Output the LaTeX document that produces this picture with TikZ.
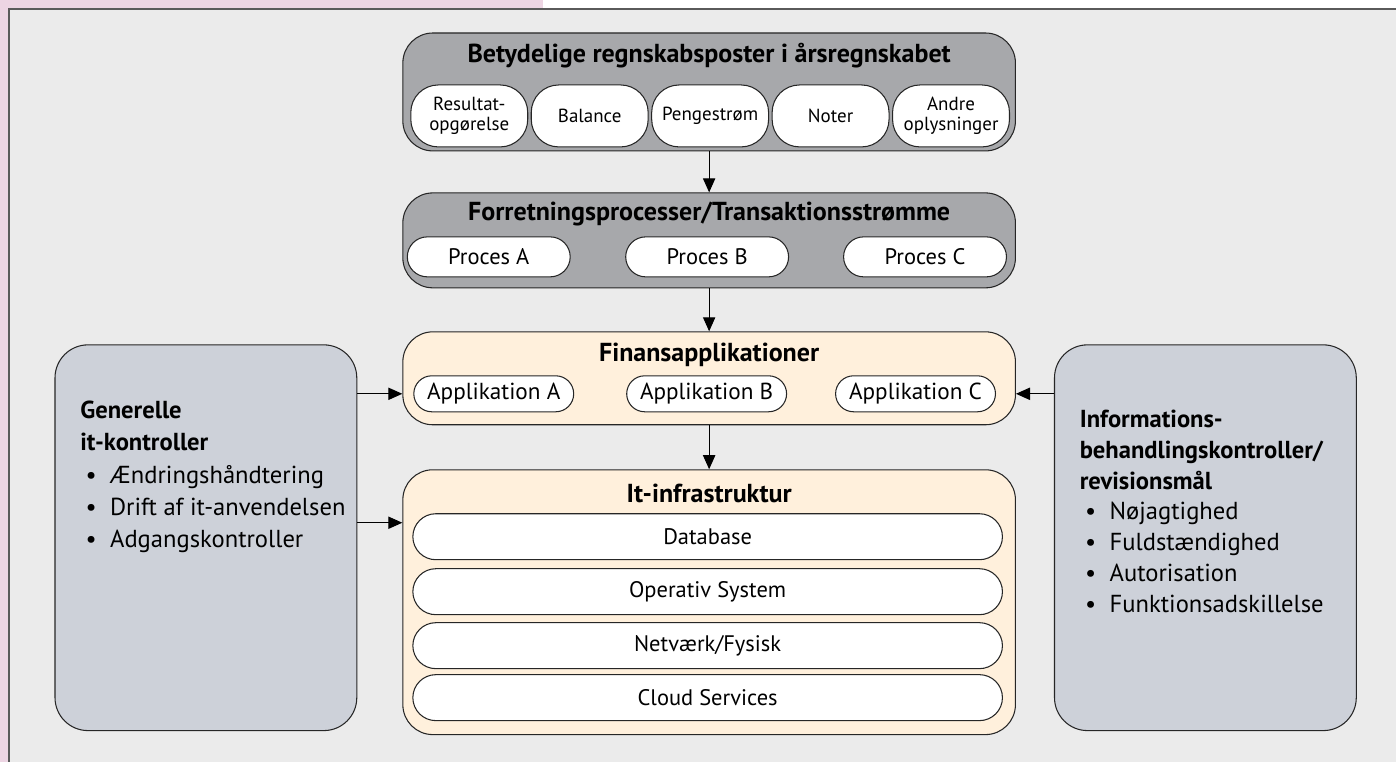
\documentclass[tikz,border=0pt]{standalone}
\usepackage{fontspec}
\setmainfont{PT Sans}
\usetikzlibrary{arrows.meta}

\definecolor{panelgray}{HTML}{EBEBEB}
\definecolor{framepink}{HTML}{EDD5E3}
\definecolor{headgray}{HTML}{A7A8AB}
\definecolor{sidegray}{HTML}{CDD1D9}
\definecolor{appcream}{HTML}{FFF0DC}
\definecolor{rimgray}{HTML}{5A5A5A}

\newcommand{\itm}{\makebox[17pt][l]{\hspace{3pt}\textbullet}}

\begin{document}
\begin{tikzpicture}[x=0.02cm, y=-0.02cm,
    box/.style={draw=black!85, line width=0.6pt, rounded corners=0.6cm,
      minimum width=12.26cm, inner sep=0pt},
    graybox/.style={box, fill=headgray},
    creambox/.style={box, fill=appcream},
    boxtitle/.style={font=\fontsize{14.8}{16}\selectfont\bfseries, inner sep=0pt},
    sidebox/.style={draw=black!85, line width=0.6pt, rounded corners=0.66cm,
      fill=sidegray, minimum width=6.04cm, minimum height=7.72cm},
    sidetext/.style={anchor=base west, align=left, inner sep=0pt},
    pill/.style={draw=black!85, line width=0.6pt, fill=white, inner sep=0pt,
      font=\fontsize{12.8}{14}\selectfont},
    itempill/.style={pill, rounded corners=0.55cm, minimum width=2.34cm,
      minimum height=1.24cm, align=center, font=\fontsize{10.8}{11.6}\selectfont},
    procpill/.style={pill, rounded corners=0.4cm, minimum width=3.26cm,
      minimum height=0.8cm},
    apppill/.style={pill, rounded corners=0.36cm, minimum width=3.2cm,
      minimum height=0.72cm, font=\fontsize{13.2}{14}\selectfont},
    layer/.style={pill, rounded corners=0.46cm, minimum width=11.8cm,
      minimum height=0.92cm},
    arr/.style={-{Triangle[length=8pt,width=7pt]}, line width=0.6pt}]

  % frame
  \fill[white] (0,0) rectangle (1397,762);
  \fill[framepink] (0,0) rectangle (543,9);
  \fill[framepink] (0,0) rectangle (9,762);
  \fill[panelgray] (9,9) rectangle (1397,762);
  \draw[rimgray, line width=0.8pt] (9,762) -- (9,9) -- (1397,9);

  % regnskabsposter
  \node[graybox, minimum height=2.36cm] (stmt) at (709.5,92) {};
  \node[boxtitle] (stmtT) at (709.5,56) {Betydelige regnskabsposter i årsregnskabet};
  \node[itempill] (res) at (469.5,116) {Resultat-\\opgørelse};
  \node[itempill] (bal) at (590,116) {Balance};
  \node[itempill] (cash) at (710.5,116) {Pengestrøm};
  \node[itempill] (note) at (831,116) {Noter};
  \node[itempill] (oth) at (951.5,116) {Andre\\oplysninger};

  % processer
  \node[graybox, minimum height=1.9cm] (proc) at (709.5,240.5) {};
  \node[boxtitle] (procT) at (709.5,214) {Forretningsprocesser/Transaktionsstrømme};
  \node[procpill] (pA) at (489,257) {Proces A};
  \node[procpill] (pB) at (707.5,257) {Proces B};
  \node[procpill] (pC) at (925.5,257) {Proces C};

  % applikationer
  \node[creambox, minimum height=1.86cm] (fin) at (709.5,378.5) {};
  \node[boxtitle] (finT) at (709.5,355) {Finansapplikationer};
  \node[apppill] (appA) at (494,394) {Applikation A};
  \node[apppill] (appB) at (707,394) {Applikation B};
  \node[apppill] (appC) at (916,394) {Applikation C};

  % infrastruktur
  \node[creambox, minimum height=5.3cm] (infra) at (709.5,602.5) {};
  \node[boxtitle] (infraT) at (709.5,494) {It-infrastruktur};
  \node[layer] (db) at (708,537) {Database};
  \node[layer] (os) at (708,592) {Operativ System};
  \node[layer] (net) at (708,646) {Netværk/Fysisk};
  \node[layer] (cloud) at (708,698) {Cloud Services};

  % kontroller
  \node[sidebox] (gen) at (206,538) {};
  \node[sidetext, font=\fontsize{14}{18.4}\selectfont] (genT) at (80,548)
    {\textbf{Generelle}\\\textbf{it-kontroller}\\
    \itm Ændringshåndtering\\\itm Drift af it-anvendelsen\\\itm Adgangskontroller};
  \node[sidebox] (info) at (1206,538) {};
  \node[sidetext, font=\fontsize{14}{17.6}\selectfont] (infoT) at (1080,613)
    {\textbf{Informations-}\\
    \textbf{behandlingskontroller/}\\\textbf{revisionsmål}\\
    \itm Nøjagtighed\\\itm Fuldstændighed\\\itm Autorisation\\
    \itm Funktionsadskillelse};

  \coordinate (inlevel) at (0,523);

  \draw[arr] (stmt) -- (proc);
  \draw[arr] (proc) -- (fin);
  \draw[arr] (fin) -- (infra);
  \draw[arr] (gen.east |- appA) -- (fin.west |- appA);
  \draw[arr] (gen.east |- inlevel) -- (infra.west |- inlevel);
  \draw[arr] (info.west |- appC) -- (fin.east |- appC);
\end{tikzpicture}
\end{document}
